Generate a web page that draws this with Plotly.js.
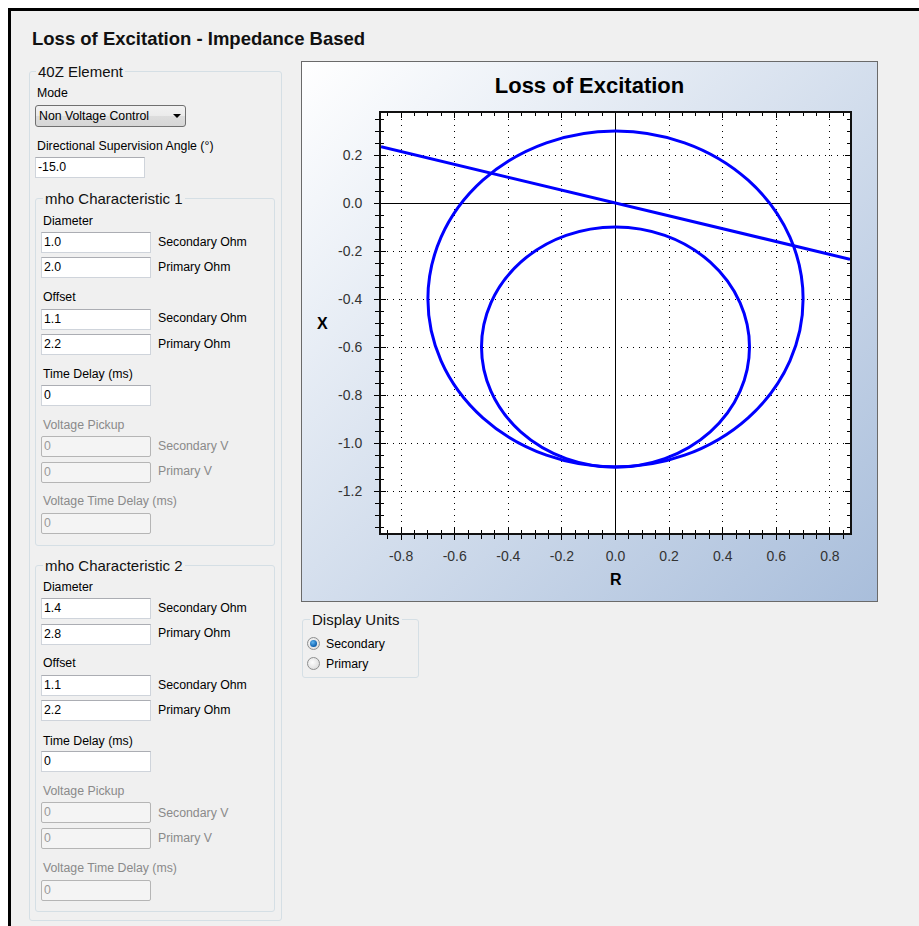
<!DOCTYPE html>
<html>
<head>
<meta charset="utf-8">
<script src="https://cdn.plot.ly/plotly-3.0.1.min.js"></script>
<style>
  html, body { margin:0; padding:0; }
  body { width:919px; height:926px; position:relative; overflow:hidden; background:#ffffff;
         font-family:'Liberation Sans', Arial, sans-serif; color:#000; }
  #frame { position:absolute; left:8px; top:8px; width:911px; height:918px; box-sizing:border-box;
           border-top:3px solid #000; border-left:3px solid #000; background:#f0f0f0; }
  .main-title { position:absolute; left:32px; top:28px; font-size:18.5px; line-height:22px; font-weight:bold; color:#111; white-space:nowrap; }
  .lbl { position:absolute; font-size:12.3px; line-height:14px; white-space:nowrap; color:#000; }
  .lbl.dis { color:#8a8a8a; }
  .grp { position:absolute; box-sizing:border-box; border:1px solid #d5dfe5; border-radius:3px; }
  .gt { position:absolute; font-size:15px; line-height:17px; padding:0 2px; background:#f0f0f0; white-space:nowrap; color:#111; }
  .tb { position:absolute; width:110px; height:21px; box-sizing:border-box; border:1px solid #cfd4db; border-top-color:#abadb3;
        background:#fff; font-size:12.3px; line-height:19px; padding-left:2px; }
  .tb.dis { background:#f4f4f4; border:1px solid #b5b5b5; border-radius:2px; color:#9a9a9a; }
  .dd { position:absolute; left:35px; top:105px; width:151px; height:22px; box-sizing:border-box; border:1px solid #707070; border-radius:3px;
        background:linear-gradient(#f2f2f2, #ebebeb 50%, #dddddd 51%, #d6d6d6); font-size:12.3px; line-height:20px; padding-left:3px; }
  .arrow { position:absolute; left:173px; top:114px; width:0; height:0; border-left:4px solid transparent; border-right:4px solid transparent; border-top:4px solid #000; }
  .radio { position:absolute; width:13px; height:13px; box-sizing:border-box; border:1px solid #8e8f8f; border-radius:50%;
           background:radial-gradient(circle at 40% 40%, #fdfdfd, #d4d4d4); }
  .radio .dot { position:absolute; left:2px; top:2px; width:7px; height:7px; border-radius:50%;
                background:radial-gradient(circle at 40% 35%, #5fb4f0, #0b5fae 70%, #0a3f7a); }
  #panel { position:absolute; left:301px; top:61px; width:577px; height:541px; box-sizing:border-box; border:1px solid #6a6a6a;
           background:linear-gradient(to bottom right, #ffffff, #a9bedb); }
  #chart { position:absolute; left:0; top:0; width:575px; height:539px; }
</style>
</head>
<body>
<div id="frame"></div>
<div class="main-title">Loss of Excitation - Impedance Based</div>

<!-- 40Z Element group -->
<div class="grp" style="left:29px; top:71px; width:253px; height:850px;"></div>
<div class="gt" style="left:36px; top:63px;">40Z Element</div>
<div class="lbl" style="left:37px; top:86px;">Mode</div>
<div class="dd">Non Voltage Control</div>
<div class="arrow"></div>
<div class="lbl" style="left:37px; top:139px;">Directional Supervision Angle (°)</div>
<div class="tb" style="left:35px; top:157px;">-15.0</div>

<!-- mho Characteristic 1 -->
<div class="grp" style="left:35px; top:198px; width:240px; height:348px;"></div>
<div class="gt" style="left:43px; top:190px;">mho Characteristic 1</div>
<div class="lbl" style="left:43px; top:214px;">Diameter</div>
<div class="tb" style="left:41px; top:232px;">1.0</div>
<div class="lbl" style="left:158px; top:235px;">Secondary Ohm</div>
<div class="tb" style="left:41px; top:257px;">2.0</div>
<div class="lbl" style="left:158px; top:260px;">Primary Ohm</div>
<div class="lbl" style="left:43px; top:290px;">Offset</div>
<div class="tb" style="left:41px; top:309px;">1.1</div>
<div class="lbl" style="left:158px; top:311px;">Secondary Ohm</div>
<div class="tb" style="left:41px; top:334px;">2.2</div>
<div class="lbl" style="left:158px; top:337px;">Primary Ohm</div>
<div class="lbl" style="left:43px; top:367px;">Time Delay (ms)</div>
<div class="tb" style="left:41px; top:385px;">0</div>
<div class="lbl dis" style="left:43px; top:418px;">Voltage Pickup</div>
<div class="tb dis" style="left:41px; top:436px;">0</div>
<div class="lbl dis" style="left:158px; top:439px;">Secondary V</div>
<div class="tb dis" style="left:41px; top:462px;">0</div>
<div class="lbl dis" style="left:158px; top:464px;">Primary V</div>
<div class="lbl dis" style="left:43px; top:494px;">Voltage Time Delay (ms)</div>
<div class="tb dis" style="left:41px; top:513px;">0</div>

<!-- mho Characteristic 2 -->
<div class="grp" style="left:35px; top:565px; width:240px; height:347px;"></div>
<div class="gt" style="left:43px; top:557px;">mho Characteristic 2</div>
<div class="lbl" style="left:43px; top:580px;">Diameter</div>
<div class="tb" style="left:41px; top:598px;">1.4</div>
<div class="lbl" style="left:158px; top:601px;">Secondary Ohm</div>
<div class="tb" style="left:41px; top:624px;">2.8</div>
<div class="lbl" style="left:158px; top:626px;">Primary Ohm</div>
<div class="lbl" style="left:43px; top:656px;">Offset</div>
<div class="tb" style="left:41px; top:675px;">1.1</div>
<div class="lbl" style="left:158px; top:678px;">Secondary Ohm</div>
<div class="tb" style="left:41px; top:700px;">2.2</div>
<div class="lbl" style="left:158px; top:703px;">Primary Ohm</div>
<div class="lbl" style="left:43px; top:734px;">Time Delay (ms)</div>
<div class="tb" style="left:41px; top:751px;">0</div>
<div class="lbl dis" style="left:43px; top:784px;">Voltage Pickup</div>
<div class="tb dis" style="left:41px; top:802px;">0</div>
<div class="lbl dis" style="left:158px; top:806px;">Secondary V</div>
<div class="tb dis" style="left:41px; top:828px;">0</div>
<div class="lbl dis" style="left:158px; top:831px;">Primary V</div>
<div class="lbl dis" style="left:43px; top:861px;">Voltage Time Delay (ms)</div>
<div class="tb dis" style="left:41px; top:880px;">0</div>

<!-- Chart panel -->
<div id="panel"><div id="chart"></div></div>

<!-- Display Units -->
<div class="grp" style="left:302px; top:619px; width:117px; height:59px;"></div>
<div class="gt" style="left:310px; top:611px;">Display Units</div>
<div class="radio" style="left:307px; top:637px;"><div class="dot"></div></div>
<div class="lbl" style="left:326px; top:637px;">Secondary</div>
<div class="radio" style="left:307px; top:657px;"></div>
<div class="lbl" style="left:326px; top:657px;">Primary</div>

<script>
// ---- Data (secondary ohms) ----
const mhoNames      = ['mho Characteristic 1', 'mho Characteristic 2'];
const mhoDiameter   = [1.0, 1.4];
const mhoOffset     = [1.1, 1.1];
const supervisionAngleDeg = -15.0;
const supervisionR  = [-0.875, 0.875];

const rRange = [-0.875, 0.875];
const xRange = [-1.375, 0.375];
const rTickText = ['-0.8', '-0.6', '-0.4', '-0.2', '0.0', '0.2', '0.4', '0.6', '0.8'];
const xTickText = ['0.2', '0.0', '-0.2', '-0.4', '-0.6', '-0.8', '-1.0', '-1.2'];
const rTickVals = rTickText.map(Number);
const xTickVals = xTickText.map(Number);

const FONT = 'Liberation Sans, Arial, sans-serif';
const BLUE = '#0000ff';

const supervisionX = supervisionR.map(r => r * Math.tan(supervisionAngleDeg * Math.PI / 180));

const traces = [{
  type: 'scatter', mode: 'lines', name: 'Directional Supervision',
  x: supervisionR, y: supervisionX, xaxis: 'x2', yaxis: 'y2',
  line: { color: BLUE, width: 3 }, hoverinfo: 'skip', showlegend: false
}];

const shapes = mhoDiameter.map((d, i) => ({
  type: 'circle', xref: 'x', yref: 'y', name: mhoNames[i],
  x0: -d / 2, x1: d / 2, y0: -mhoOffset[i], y1: -mhoOffset[i] + d,
  line: { color: BLUE, width: 3 }, layer: 'above'
}));

function baseAxis(range, vals, text) {
  return {
    range: range, fixedrange: true, tickmode: 'array', tickvals: vals, ticktext: text,
    ticks: 'outside', ticklen: 5, tickwidth: 1, tickcolor: '#000',
    minor: { tickmode: 'linear', tick0: 0, dtick: 0.05, ticks: 'outside', ticklen: 4, tickwidth: 1, tickcolor: '#000', showgrid: false },
    showgrid: true, gridcolor: '#000', gridwidth: 1, griddash: '1px,5px',
    zeroline: true, zerolinecolor: '#000', zerolinewidth: 1,
    showline: true, linecolor: '#111', linewidth: 2, mirror: false,
    tickfont: { family: FONT, size: 14, color: '#333' }
  };
}
function overlayAxis(range, vals, over, anchor) {
  return {
    overlaying: over, anchor: anchor, range: range, fixedrange: true,
    tickmode: 'array', tickvals: vals, ticks: 'inside', ticklen: 5, tickwidth: 1, tickcolor: '#000',
    minor: { tickmode: 'linear', tick0: 0, dtick: 0.05, ticks: 'inside', ticklen: 3, tickwidth: 1, tickcolor: '#000', showgrid: false },
    showticklabels: false, showgrid: false, zeroline: false,
    showline: true, linecolor: '#111', linewidth: 2, mirror: 'ticks'
  };
}

const xa = baseAxis(rRange, rTickVals, rTickText); xa.ticklabelstandoff = 4;
const ya = baseAxis(xRange, xTickVals, xTickText); ya.ticklabelstandoff = 9;
const x2 = overlayAxis(rRange, rTickVals, 'x', 'y2'); x2.side = 'bottom';
const y2 = overlayAxis(xRange, xTickVals, 'y', 'x2'); y2.side = 'left';

const layout = {
  width: 575, height: 539,
  margin: { l: 79, r: 27, t: 51, b: 68, pad: 0 },
  paper_bgcolor: 'rgba(0,0,0,0)', plot_bgcolor: '#ffffff',
  showlegend: false,
  title: { text: '<b>Loss of Excitation</b>', font: { family: FONT, size: 22, color: '#000' },
           x: 0.5, xref: 'container', xanchor: 'center', y: 0.957, yref: 'container', yanchor: 'middle' },
  xaxis: xa, yaxis: ya, xaxis2: x2, yaxis2: y2,
  shapes: shapes,
  annotations: [
    { text: '<b>R</b>', xref: 'paper', yref: 'paper', x: 0.5, y: 0, yshift: -46, xanchor: 'center', yanchor: 'middle', showarrow: false,
      font: { family: FONT, size: 16, color: '#000' } },
    { text: '<b>X</b>', xref: 'paper', yref: 'paper', x: 0, xshift: -59, y: 0.5, xanchor: 'center', yanchor: 'middle', showarrow: false,
      font: { family: FONT, size: 16, color: '#000' } }
  ]
};

Plotly.newPlot('chart', traces, layout, { staticPlot: true, displayModeBar: false });
</script>
</body>
</html>
